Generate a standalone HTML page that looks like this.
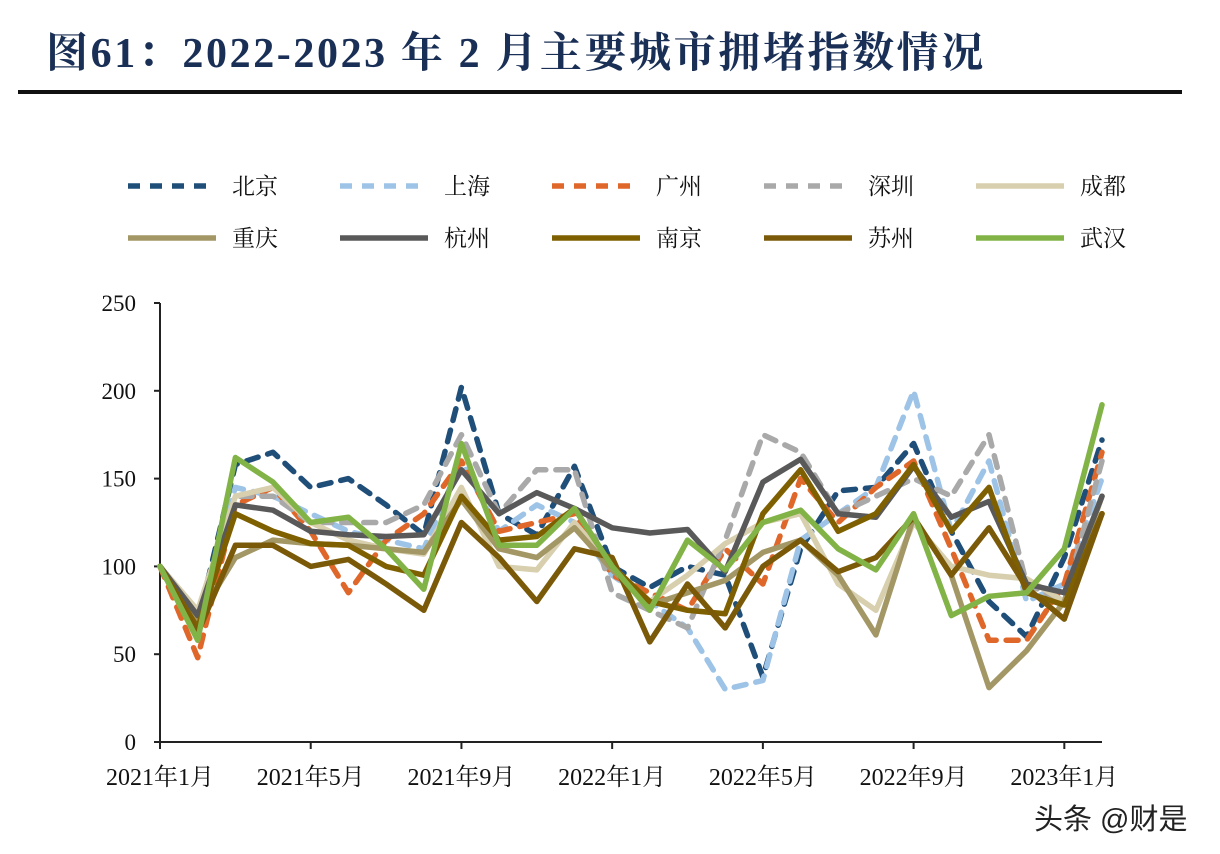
<!DOCTYPE html>
<html><head><meta charset="utf-8">
<style>
html,body{margin:0;padding:0;background:#fff;}
body{width:1220px;height:854px;position:relative;overflow:hidden;font-family:"Liberation Serif","Noto Serif CJK SC",serif;}
#title{position:absolute;left:46px;top:20px;font-size:42px;font-weight:bold;color:#1a2f55;letter-spacing:2.6px;white-space:nowrap;}
#rule{position:absolute;left:18px;top:90px;width:1164px;height:4px;background:#111;}
#wm{position:absolute;left:1034px;top:796px;font-size:29px;color:#222;font-family:"Liberation Sans","Noto Sans CJK SC",sans-serif;}
</style></head>
<body>
<div id="title">图61：2022-2023 年 2 月主要城市拥堵指数情况</div>
<div id="rule"></div>
<svg id="chart" width="1220" height="854" style="position:absolute;left:0;top:0"></svg>
<div id="wm">头条 @财是</div>
<script>
const categories=["2021-01","2021-02","2021-03","2021-04","2021-05","2021-06","2021-07","2021-08","2021-09","2021-10","2021-11","2021-12","2022-01","2022-02","2022-03","2022-04","2022-05","2022-06","2022-07","2022-08","2022-09","2022-10","2022-11","2022-12","2023-01","2023-02"];
const tickLabels=["2021年1月","2021年5月","2021年9月","2022年1月","2022年5月","2022年9月","2023年1月"];
const yTicks=[0,50,100,150,200,250];
const seriesNames=["北京","上海","广州","深圳","成都","重庆","杭州","南京","苏州","武汉"];
const beijing=[100,68,158,165,145,150,135,118,202,130,118,157,100,88,100,95,37,110,143,145,170,120,80,60,105,172];
const shanghai=[100,70,145,140,130,120,115,110,160,120,135,125,95,80,65,30,35,115,130,145,200,120,160,80,90,150];
const guangzhou=[100,48,135,145,120,85,115,130,160,120,125,130,95,85,75,110,90,150,125,145,160,110,58,58,90,165];
const shenzhen=[100,70,140,140,125,125,125,135,175,130,155,155,85,75,65,115,175,165,130,140,150,140,175,90,80,160];
const chengdu=[100,75,140,145,125,115,110,107,145,100,98,125,100,80,95,113,125,130,90,75,125,100,95,93,80,140];
const chongqing=[100,70,105,115,113,112,110,108,138,110,105,122,98,78,85,92,108,115,95,61,128,95,31,52,80,140];
const hangzhou=[100,72,135,132,120,118,117,118,155,130,142,133,122,119,121,97,148,161,130,128,157,128,137,90,85,140];
const nanjing=[100,65,130,120,113,112,100,95,140,115,117,133,100,80,75,73,130,155,120,130,158,120,145,85,78,130];
const suzhou=[100,62,112,112,100,104,90,75,125,105,80,110,105,57,90,65,100,115,97,105,128,95,122,88,70,130];
const wuhan=[100,58,162,148,125,128,110,87,170,112,112,133,100,75,115,98,125,132,110,98,130,72,83,85,110,192];

const allSeries=[beijing,shanghai,guangzhou,shenzhen,chengdu,chongqing,hangzhou,nanjing,suzhou,wuhan];
const colors=["#1f4e79","#9dc3e6","#e0672a","#a9a9a9","#d8cfae","#a39766","#595959","#7f6000","#7a5a08","#82b346"];
const dashed=[true,true,true,true,false,false,false,false,false,false];
const keys=["beijing","shanghai","guangzhou","shenzhen","chengdu","chongqing","hangzhou","nanjing","suzhou","wuhan"];

const NS="http://www.w3.org/2000/svg";
const svg=document.getElementById('chart');
const x0=160,x1=1102,y0=742,y1=303,ymax=250;
function xs(i){return x0+i*(x1-x0)/(categories.length-1);}
function ys(v){return y0-v*(y0-y1)/ymax;}
function mk(t,a){const e=document.createElementNS(NS,t);for(const k in a)e.setAttribute(k,a[k]);svg.appendChild(e);return e;}

let ax=mk('line',{x1:x0,y1:y1,x2:x0,y2:y0,stroke:'#222','stroke-width':2});


let bx=mk('line',{x1:x0,y1:y0,x2:x1,y2:y0,stroke:'#222','stroke-width':2});


yTicks.forEach(v=>{
  const t=mk('line',{x1:x0-6,y1:ys(v),x2:x0,y2:ys(v),stroke:'#222','stroke-width':2});
  
  
  const l=mk('text',{x:136,y:ys(v)+8,'text-anchor':'end','font-size':23,fill:'#111','font-family':'Liberation Serif, serif'});
  l.textContent=v;
  
  
});
tickLabels.forEach((s,k)=>{
  const i=k*4;
  const t=mk('line',{x1:xs(i),y1:y0,x2:xs(i),y2:y0+7,stroke:'#222','stroke-width':2});
  
  
  const l=mk('text',{x:xs(i),y:785,'text-anchor':'middle','font-size':24,fill:'#111','font-family':'Liberation Serif, Noto Serif CJK SC, serif'});
  l.textContent=s;
  
  
});
allSeries.forEach((d,si)=>{
  const p=d.map((v,i)=>xs(i).toFixed(1)+','+ys(v).toFixed(1)).join(' ');
  const a={points:p,fill:'none',stroke:colors[si],'stroke-width':5.5,'stroke-linejoin':'round','stroke-linecap':'round'};
  if(dashed[si])a['stroke-dasharray']='12 10';
  const e=mk('polyline',a);
  
  
});
seriesNames.forEach((n,si)=>{
  const col=si%5,row=Math.floor(si/5);
  const lx=128+col*212,ly=186+row*52;
  const a={x1:lx,y1:ly,x2:lx+88,y2:ly,stroke:colors[si],'stroke-width':5.5};
  if(dashed[si])a['stroke-dasharray']='12 10';
  const e=mk('line',a);
  
  
  const t=mk('text',{x:lx+104,y:ly+8,'font-size':23,fill:'#111','font-family':'Liberation Serif, Noto Serif CJK SC, serif'});
  t.textContent=n;
  
  
});
</script>
</body></html>
